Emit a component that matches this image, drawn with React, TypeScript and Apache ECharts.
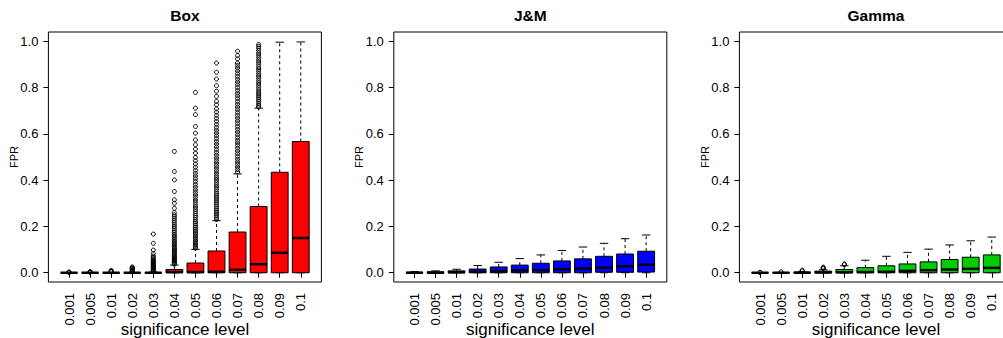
import React, { useEffect, useRef } from "react";
import * as echarts from "echarts";

const categories = ["0.001", "0.005", "0.01", "0.02", "0.03", "0.04", "0.05", "0.06", "0.07", "0.08", "0.09", "0.1"];
const yTicks = [0, 0.2, 0.4, 0.6, 0.8, 1.0];
const panelTitles = ["Box", "J&M", "Gamma"];
const panelColors = ["#FF0000", "#0000FF", "#00CD00"];

// Box method
const boxLo = [0, 0, 0, 0, 0, 0, 0, 0, 0, 0, 0, 0];
const boxQ1 = [0, 0, 0, 0, 0, 0, 0, 0, 0, 0, 0, 0];
const boxMed = [0, 0, 0, 0, 0, 0.003, 0.003, 0.004, 0.013, 0.037, 0.086, 0.15];
const boxQ3 = [0, 0, 0, 0, 0.001, 0.014, 0.042, 0.094, 0.176, 0.286, 0.434, 0.567];
const boxHi = [0, 0, 0, 0.001, 0.003, 0.033, 0.101, 0.225, 0.427, 0.711, 0.996, 0.997];

const boxOut001 = [0.001, 0.002, 0.003];
const boxOut005 = [0.002, 0.003, 0.005];
const boxOut01 = [0.004, 0.006, 0.008, 0.01];
const boxOut02 = [0.004, 0.007, 0.01, 0.013, 0.016, 0.019, 0.022, 0.025];
const boxOut03 = [0.005, 0.008, 0.011, 0.014, 0.017, 0.02, 0.023, 0.026, 0.029, 0.032, 0.035, 0.038, 0.041, 0.044, 0.048, 0.052, 0.056, 0.061, 0.066, 0.072, 0.083, 0.098, 0.127, 0.167];
const boxOut04 = [0.037, 0.041, 0.045, 0.049, 0.053, 0.057, 0.061, 0.065, 0.069, 0.073, 0.078, 0.083, 0.088, 0.093, 0.098, 0.103, 0.108, 0.114, 0.12, 0.126, 0.132, 0.138, 0.145, 0.152, 0.159, 0.166, 0.174, 0.182, 0.19, 0.198, 0.207, 0.216, 0.225, 0.234, 0.242, 0.25, 0.26, 0.278, 0.3, 0.315, 0.351, 0.401, 0.437, 0.524];
const boxOut05 = [0.106, 0.112, 0.118, 0.124, 0.13, 0.137, 0.144, 0.151, 0.158, 0.165, 0.172, 0.18, 0.188, 0.196, 0.204, 0.212, 0.22, 0.229, 0.238, 0.247, 0.256, 0.265, 0.274, 0.284, 0.294, 0.304, 0.314, 0.325, 0.336, 0.347, 0.358, 0.37, 0.382, 0.394, 0.406, 0.418, 0.43, 0.443, 0.456, 0.47, 0.484, 0.498, 0.517, 0.534, 0.553, 0.574, 0.603, 0.632, 0.683, 0.711, 0.779];
const boxOut06 = [0.23, 0.238, 0.246, 0.254, 0.262, 0.27, 0.278, 0.287, 0.296, 0.305, 0.314, 0.323, 0.332, 0.341, 0.35, 0.36, 0.37, 0.38, 0.39, 0.4, 0.41, 0.42, 0.43, 0.441, 0.452, 0.463, 0.474, 0.485, 0.496, 0.508, 0.52, 0.532, 0.544, 0.556, 0.568, 0.58, 0.592, 0.604, 0.616, 0.628, 0.641, 0.654, 0.667, 0.68, 0.694, 0.708, 0.726, 0.74, 0.762, 0.784, 0.808, 0.837, 0.866, 0.906];
const boxOut07 = [0.435, 0.446, 0.457, 0.468, 0.479, 0.49, 0.502, 0.514, 0.526, 0.538, 0.55, 0.561, 0.572, 0.584, 0.596, 0.608, 0.62, 0.632, 0.644, 0.656, 0.668, 0.68, 0.692, 0.704, 0.716, 0.728, 0.74, 0.752, 0.764, 0.776, 0.788, 0.8, 0.812, 0.824, 0.836, 0.848, 0.86, 0.872, 0.884, 0.895, 0.906, 0.924, 0.938, 0.957];
const boxOut08 = [0.716, 0.724, 0.732, 0.74, 0.748, 0.756, 0.764, 0.772, 0.78, 0.79, 0.8, 0.81, 0.82, 0.83, 0.84, 0.85, 0.86, 0.87, 0.88, 0.89, 0.9, 0.91, 0.92, 0.93, 0.94, 0.95, 0.96, 0.97, 0.978, 0.986];
const boxOut09: number[] = [];
const boxOut1: number[] = [];

// J&M method
const jmLo = [0, 0, 0, 0, 0, 0, 0, 0, 0, 0, 0, 0];
const jmQ1 = [0, 0, 0, 0, 0, 0, 0, 0, 0, 0.002, 0.002, 0.003];
const jmMed = [0, 0, 0.002, 0.004, 0.007, 0.01, 0.011, 0.015, 0.018, 0.022, 0.028, 0.035];
const jmQ3 = [0.002, 0.004, 0.008, 0.016, 0.025, 0.033, 0.041, 0.051, 0.06, 0.071, 0.081, 0.093];
const jmHi = [0.005, 0.008, 0.015, 0.031, 0.045, 0.061, 0.077, 0.096, 0.111, 0.127, 0.147, 0.163];

// Gamma method
const gamLo = [0, 0, 0, 0, 0, 0, 0, 0, 0, 0, 0, 0];
const gamQ1 = [0, 0, 0, 0, 0, 0, 0, 0, 0, 0, 0, 0];
const gamMed = [0, 0, 0, 0.001, 0.002, 0.003, 0.004, 0.008, 0.011, 0.014, 0.017, 0.021];
const gamQ3 = [0, 0.001, 0.003, 0.007, 0.014, 0.022, 0.03, 0.038, 0.047, 0.057, 0.067, 0.077];
const gamHi = [0, 0.002, 0.005, 0.013, 0.03, 0.054, 0.071, 0.088, 0.102, 0.12, 0.138, 0.154];
const gamOut001 = [0.001, 0.002];
const gamOut005 = [0.004];
const gamOut01 = [0.008, 0.011];
const gamOut02 = [0.018, 0.021, 0.024];
const gamOut03 = [0.035, 0.038];

const boxOutliers = [boxOut001, boxOut005, boxOut01, boxOut02, boxOut03, boxOut04, boxOut05, boxOut06, boxOut07, boxOut08, boxOut09, boxOut1];
const gamOutliers = [gamOut001, gamOut005, gamOut01, gamOut02, gamOut03, [], [], [], [], [], [], []];

const FONT = "'Liberation Sans', Arial, Helvetica, sans-serif";

function boxData(lo: number[], q1: number[], med: number[], q3: number[], hi: number[]) {
  return categories.map((_, i) => [i + 1, lo[i], q1[i], med[i], q3[i], hi[i]]);
}

function outlierData(lists: number[][]) {
  const out: number[][] = [];
  lists.forEach((list, i) => list.forEach((v) => out.push([i + 1, v])));
  return out;
}

function makeRenderItem(color: string) {
  return (params: any, api: any) => {
    const x = api.value(0);
    const pLo = api.coord([x, api.value(1)]);
    const pQ1 = api.coord([x, api.value(2)]);
    const pMed = api.coord([x, api.value(3)]);
    const pQ3 = api.coord([x, api.value(4)]);
    const pHi = api.coord([x, api.value(5)]);
    const bw = api.size([0.8, 0])[0];
    const sw = bw / 2;
    const cx = pQ1[0];
    const dash = { stroke: "#000", lineWidth: 1, lineDash: [3, 3] };
    const solid = { stroke: "#000", lineWidth: 1 };
    return {
      type: "group",
      children: [
        { type: "line", shape: { x1: cx, y1: pQ3[1], x2: cx, y2: pHi[1] }, style: dash },
        { type: "line", shape: { x1: cx, y1: pLo[1], x2: cx, y2: pQ1[1] }, style: dash },
        { type: "line", shape: { x1: cx - sw / 2, y1: pHi[1], x2: cx + sw / 2, y2: pHi[1] }, style: solid },
        { type: "line", shape: { x1: cx - sw / 2, y1: pLo[1], x2: cx + sw / 2, y2: pLo[1] }, style: solid },
        {
          type: "rect",
          shape: { x: cx - bw / 2, y: pQ3[1], width: bw, height: Math.max(pQ1[1] - pQ3[1], 0.01) },
          style: { fill: color, stroke: "#000", lineWidth: 1 },
        },
        { type: "line", shape: { x1: cx - bw / 2, y1: pMed[1], x2: cx + bw / 2, y2: pMed[1] }, style: { stroke: "#000", lineWidth: 2.5 } },
      ],
    };
  };
}

const frameLeft = [48.4, 393.8, 739.4];

export default function App() {
  const ref = useRef<HTMLDivElement>(null);
  useEffect(() => {
    document.body.style.margin = "0";
    if (!ref.current) return;
    const chart = echarts.init(ref.current, null, { renderer: "svg" });
    const panelBoxData = [
      boxData(boxLo, boxQ1, boxMed, boxQ3, boxHi),
      boxData(jmLo, jmQ1, jmMed, jmQ3, jmHi),
      boxData(gamLo, gamQ1, gamMed, gamQ3, gamHi),
    ];
    const grids = frameLeft.map((l) => ({
      left: l,
      top: 32,
      width: 273,
      height: 250,
      containLabel: false,
      outerBoundsMode: "none",
      show: true,
      borderColor: "#000",
      borderWidth: 1,
      backgroundColor: "transparent",
    }));
    const xAxes = frameLeft.map((_, k) => ({
      type: "value",
      gridIndex: k,
      min: 0.02,
      max: 12.98,
      axisLine: { show: false },
      splitLine: { show: false },
      axisTick: { show: true, length: 5, customValues: categories.map((_, i) => i + 1), lineStyle: { color: "#000" } },
      axisLabel: {
        show: true,
        customValues: categories.map((_, i) => i + 1),
        rotate: 90,
        margin: 11,
        fontSize: 13,
        color: "#000",
        fontFamily: FONT,
        formatter: (v: number) => categories[Math.round(v) - 1] ?? "",
      },
      name: "significance level",
      nameLocation: "middle",
      nameGap: 39,
      nameMoveOverlap: false,
      nameTextStyle: { fontSize: 17, color: "#000", fontFamily: FONT },
    }));
    const yAxes = frameLeft.map((_, k) => ({
      type: "value",
      gridIndex: k,
      min: -0.04,
      max: 1.04,
      axisLine: { show: false },
      splitLine: { show: false },
      axisTick: { show: true, length: 5, customValues: yTicks, lineStyle: { color: "#000" } },
      axisLabel: {
        show: true,
        customValues: yTicks,
        margin: 10,
        fontSize: 13,
        color: "#000",
        fontFamily: FONT,
        formatter: (v: number) => v.toFixed(1),
      },
      name: "FPR",
      nameLocation: "middle",
      nameGap: 29,
      nameMoveOverlap: false,
      nameTextStyle: { fontSize: 11, color: "#000", fontFamily: FONT },
    }));
    const series: any[] = [];
    frameLeft.forEach((_, k) => {
      series.push({
        type: "custom",
        xAxisIndex: k,
        yAxisIndex: k,
        renderItem: makeRenderItem(panelColors[k]),
        encode: { x: 0, y: [1, 2, 3, 4, 5] },
        data: panelBoxData[k],
        silent: true,
        z: 2,
      });
    });
    [
      { k: 0, lists: boxOutliers },
      { k: 2, lists: gamOutliers },
    ].forEach(({ k, lists }) => {
      series.push({
        type: "scatter",
        xAxisIndex: k,
        yAxisIndex: k,
        data: outlierData(lists),
        symbol: "circle",
        symbolSize: 4,
        itemStyle: { color: "rgba(0,0,0,0)", borderColor: "#000", borderWidth: 1, opacity: 1 },
        silent: true,
        z: 3,
      });
    });
    const graphic = frameLeft.map((l, k) => ({
      type: "text",
      x: l + 136.5,
      y: 15,
      style: {
        text: panelTitles[k],
        font: `bold 15.5px ${FONT}`,
        fill: "#000",
        textAlign: "center",
        textVerticalAlign: "middle",
      },
    }));
    chart.setOption({
      animation: false,
      textStyle: { fontFamily: FONT },
      grid: grids,
      xAxis: xAxes,
      yAxis: yAxes,
      series,
      graphic,
    });
    return () => chart.dispose();
  }, []);
  return <div ref={ref} style={{ width: 1003, height: 338 }} />;
}
